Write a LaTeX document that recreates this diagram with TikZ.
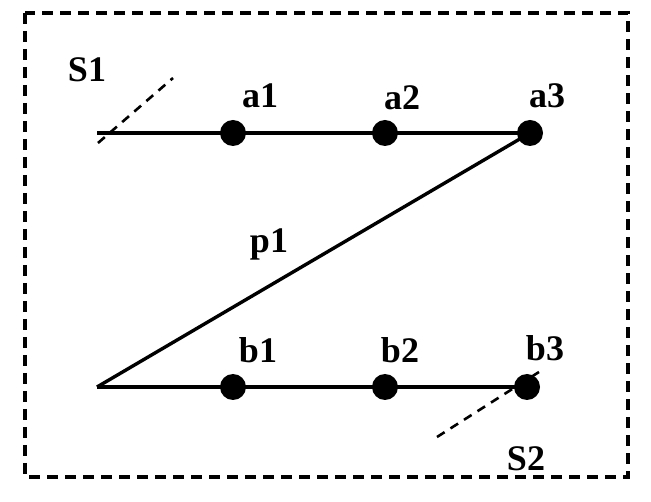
\documentclass[tikz,border=0pt]{standalone}
\usepackage{fontspec}
\setmainfont{Liberation Serif}
\begin{document}
\begin{tikzpicture}[x=1pt,y=-1pt,
  solid line/.style={line width=3.4pt},
  dashed line/.style={line width=2.6pt,dash pattern=on 9pt off 7pt},
  dot/.style={circle,fill=black,inner sep=0pt,minimum size=26pt},
  lbl/.style={font=\bfseries\fontsize{36}{36}\selectfont,inner sep=0pt}]
\useasboundingbox (0,0) rectangle (651,502);
\draw[line width=3.2pt,dash pattern=on 11pt off 7pt] (25,13) rectangle (628,477);
\coordinate (tl) at (97,133);
\coordinate (bl) at (97,387);
\node[dot] (a1) at (233,133) {};
\node[dot] (a2) at (385,133) {};
\node[dot] (a3) at (530,133) {};
\node[dot] (b1) at (233,387) {};
\node[dot] (b2) at (385,387) {};
\node[dot] (b3) at (527,387) {};
\draw[solid line] (tl) -- (a3.center);
\draw[solid line] (bl) -- (b3.center);
\draw[solid line] (bl) -- (a3.center);
\coordinate (s1a) at (98,143);
\coordinate (s1b) at (173,78);
\coordinate (s2a) at (437,437);
\coordinate (s2b) at (539,372);
\draw[dashed line] (s1a) -- (s1b);
\draw[dashed line] (s2a) -- (s2b);
\node[lbl] (S1) at (87,70) {S1};
\node[lbl] (la1) at (260,96) {a1};
\node[lbl] (la2) at (402,98) {a2};
\node[lbl] (la3) at (547,96) {a3};
\node[lbl] (lp1) at (269,244) {p1};
\node[lbl] (lb1) at (258,350) {b1};
\node[lbl] (lb2) at (400,350) {b2};
\node[lbl] (lb3) at (545,348) {b3};
\node[lbl] (S2) at (526,459) {S2};
\end{tikzpicture}
\end{document}
